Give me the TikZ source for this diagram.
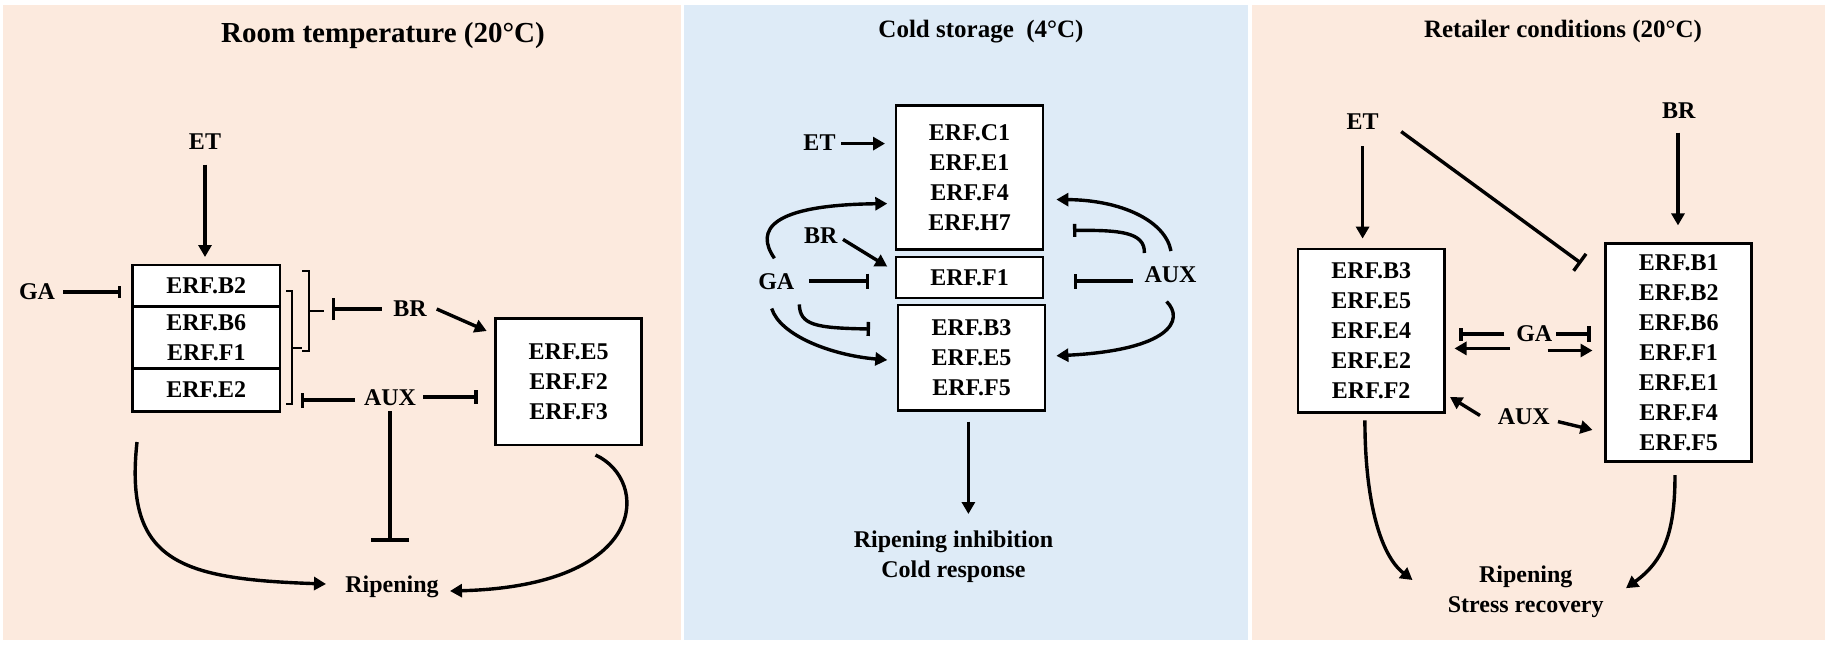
\documentclass[tikz,border=0pt]{standalone}
\usepackage{fontspec}
\setmainfont{Liberation Serif}
\usetikzlibrary{arrows.meta}
\definecolor{peach}{RGB}{252,234,222}
\definecolor{skyb}{RGB}{222,235,247}
\begin{document}
\begin{tikzpicture}[x=0.5pt,y=-0.5pt,
  lbl/.style={font=\bfseries\fontsize{12pt}{15pt}\selectfont, inner sep=0pt, align=center},
  ttl/.style={font=\bfseries\fontsize{12.5pt}{15pt}\selectfont, inner sep=0pt},
  box/.style={draw, line width=1.4pt, fill=white, inner sep=0pt, align=center,
    font=\bfseries\fontsize{12pt}{15pt}\selectfont},
  arr/.style={-{Triangle[length=6pt,width=6.5pt]}, line width=1.7pt},
  inh/.style={-{Bar[width=#1]}, line width=1.7pt},
  inh/.default=8pt,
  brk/.style={line width=0.6pt}]
\useasboundingbox (0,0) rectangle (1828,645);
\fill[white] (0,0) rectangle (1828,645);
\fill[peach] (3,5) rectangle (681,640);
\fill[skyb] (684,5) rectangle (1248,640);
\fill[peach] (1252,5) rectangle (1825,640);

% ---------------- Panel 1 ----------------
\node[ttl, font=\bfseries\fontsize{14.5pt}{17pt}\selectfont] (t1) at (383,36) {Room temperature (20°C)};
\node[lbl] (et1) at (205,142) {ET};
\node[lbl] (ga1) at (37,292) {GA};
\node[lbl] (br1) at (410,309) {BR};
\node[lbl] (aux1) at (390,398) {AUX};
\node[lbl] (rip1) at (392,587) {Ripening};
\node[box, minimum width=73.75pt, minimum height=20.75pt] (b2) at (206.25,285.75) {ERF.B2};
\node[box, minimum width=73.75pt, minimum height=31pt] (b6) at (206.25,337.5) {ERF.B6\\ERF.F1};
\node[box, minimum width=73.75pt, minimum height=21.5pt] (e2) at (206.25,390) {ERF.E2};
\node[box, minimum width=73.2pt, minimum height=63.1pt] (e5) at (568.6,381.9) {ERF.E5\\ERF.F2\\ERF.F3};

\coordinate (et1a) at (205,164.5);  \coordinate (et1b) at (205,257);
\coordinate (ga1a) at (63,292);     \coordinate (ga1b) at (121,292);
\coordinate (br1a) at (381.7,309);  \coordinate (br1b) at (331.7,309);
\coordinate (br1c) at (436.7,309);  \coordinate (br1d) at (486.7,331);
\coordinate (aux1a) at (355,400);   \coordinate (aux1b) at (301,400);
\coordinate (aux1c) at (423,397);   \coordinate (aux1d) at (477.7,397);
\coordinate (aux1e) at (390,411);   \coordinate (aux1f) at (390,541.7);
\coordinate (l1a) at (137,442);     \coordinate (l1b) at (326,584);
\coordinate (r1a) at (595.5,455);   \coordinate (r1b) at (450,591);

\draw[arr] (et1a) -- (et1b);
\draw[inh=6pt] (ga1a) -- (ga1b);
\draw[brk] (302,271) -- (309,271) -- (309,351) -- (302,351);
\draw[brk] (309,311) -- (324,311);
\draw[brk] (286,291) -- (292,291) -- (292,404) -- (286,404);
\draw[brk] (292,348) -- (302,348);
\draw[inh=11pt] (br1a) -- (br1b);
\draw[arr] (br1c) -- (br1d);
\draw[inh=7.5pt] (aux1a) -- (aux1b);
\draw[inh=7pt] (aux1c) -- (aux1d);
\draw[inh=19pt] (aux1e) -- (aux1f);
\draw[arr] (l1a) .. controls (124,562) and (180,579) .. (l1b);
\draw[arr] (r1a) .. controls (650,480) and (650,586) .. (r1b);

% ---------------- Panel 2 ----------------
\node[ttl] (t2) at (981,32) {Cold storage\ \ (4°C)};
\node[box, minimum width=73.5pt, minimum height=71.8pt] (c1) at (969.5,177.5) {ERF.C1\\ERF.E1\\ERF.F4\\ERF.H7};
\node[box, minimum width=73.5pt, minimum height=20.5pt] (f1) at (969.5,277.5) {ERF.F1};
\node[box, minimum width=73.5pt, minimum height=52.75pt] (b3) at (971.5,357.75) {ERF.B3\\ERF.E5\\ERF.F5};
\node[lbl] (et2) at (819.5,142.7) {ET};
\node[lbl] (br2) at (820.7,235.7) {BR};
\node[lbl] (ga2) at (776.3,281.8) {GA};
\node[lbl] (aux2) at (1170.5,274.4) {AUX};
\node[lbl] (out2) at (953.5,557) {Ripening inhibition\\Cold response};

\coordinate (et2a) at (841,143.6);   \coordinate (et2b) at (885,143.6);
\coordinate (br2a) at (843,239.4);   \coordinate (br2b) at (887.3,266.6);
\coordinate (ga2a) at (808.8,281);   \coordinate (ga2b) at (869,281);
\coordinate (ga2c) at (774.4,258.3); \coordinate (ga2d) at (887.3,203.6);
\coordinate (ga2e) at (799.3,304.4); \coordinate (ga2f) at (870,329);
\coordinate (ga2g) at (771.7,308.5); \coordinate (ga2h) at (887.3,360);
\coordinate (aux2a) at (1133,281);   \coordinate (aux2b) at (1073.7,281);
\coordinate (aux2c) at (1144.4,253); \coordinate (aux2d) at (1073,230.4);
\coordinate (aux2e) at (1171,251);   \coordinate (aux2f) at (1056.4,199.5);
\coordinate (aux2g) at (1166.6,301.5); \coordinate (aux2h) at (1056.4,355.8);
\coordinate (dn2a) at (968.4,421.6); \coordinate (dn2b) at (968.4,514);

\draw[arr] (et2a) -- (et2b);
\draw[arr] (br2a) -- (br2b);
\draw[inh=7.5pt] (ga2a) -- (ga2b);
\draw[arr] (ga2c) .. controls (755,230) and (770,205) .. (ga2d);
\draw[inh=7pt] (ga2e) .. controls (800,325) and (815,328) .. (ga2f);
\draw[arr] (ga2g) .. controls (780,335) and (830,355) .. (ga2h);
\draw[inh=7.5pt] (aux2a) -- (aux2b);
\draw[inh=6.5pt] (aux2c) .. controls (1145,232) and (1120,230) .. (aux2d);
\draw[arr] (aux2e) .. controls (1165,220) and (1120,200) .. (aux2f);
\draw[arr] (aux2g) .. controls (1185,320) and (1170,350) .. (aux2h);
\draw[arr] (dn2a) -- (dn2b);

% ---------------- Panel 3 ----------------
\node[ttl] (t3) at (1563,31) {Retailer conditions (20°C)};
\node[lbl] (et3) at (1362.6,121.3) {ET};
\node[lbl] (br3) at (1678.7,110.2) {BR};
\node[lbl] (ga3) at (1534.3,333.2) {GA};
\node[lbl] (aux3) at (1523.8,416.3) {AUX};
\node[lbl] (out3) at (1525.7,592) {Ripening\\Stress recovery};
\node[box, minimum width=73.2pt, minimum height=81.65pt] (lb3) at (1371.2,330.55) {ERF.B3\\ERF.E5\\ERF.E4\\ERF.E2\\ERF.F2};
\node[box, minimum width=73.1pt, minimum height=109pt] (rb3) at (1678.7,352.5) {ERF.B1\\ERF.B2\\ERF.B6\\ERF.F1\\ERF.E1\\ERF.F4\\ERF.F5};

\coordinate (et3a) at (1362.6,146);   \coordinate (et3b) at (1362.6,238.6);
\coordinate (br3a) at (1678,132.5);   \coordinate (br3b) at (1678,225.4);
\coordinate (et3c) at (1401.2,131.6); \coordinate (et3d) at (1581.2,263.3);
\coordinate (ga3a) at (1504.3,334);   \coordinate (ga3b) at (1459.3,334);
\coordinate (ga3c) at (1556,334);     \coordinate (ga3d) at (1590.6,334);
\coordinate (ga3e) at (1510,348.4);   \coordinate (ga3f) at (1454.5,348.4);
\coordinate (ga3g) at (1547.5,350.5); \coordinate (ga3h) at (1592.5,350.5);
\coordinate (aux3a) at (1480,415.5);  \coordinate (aux3b) at (1450,397);
\coordinate (aux3c) at (1558,421.6);  \coordinate (aux3d) at (1592.5,429.9);
\coordinate (l3a) at (1364.9,420.4);  \coordinate (l3b) at (1412.5,580);
\coordinate (r3a) at (1675,475);      \coordinate (r3b) at (1626,588.2);

\draw[arr] (et3a) -- (et3b);
\draw[arr] (br3a) -- (br3b);
\draw[inh=10.5pt] (et3c) -- (et3d);
\draw[inh=6.5pt] (ga3a) -- (ga3b);
\draw[inh=8pt] (ga3c) -- (ga3d);
\draw[arr] (ga3e) -- (ga3f);
\draw[arr] (ga3g) -- (ga3h);
\draw[arr] (aux3a) -- (aux3b);
\draw[arr] (aux3c) -- (aux3d);
\draw[arr] (l3a) .. controls (1365,500) and (1380,555) .. (l3b);
\draw[arr] (r3a) .. controls (1675,530) and (1665,560) .. (r3b);
\end{tikzpicture}
\end{document}
